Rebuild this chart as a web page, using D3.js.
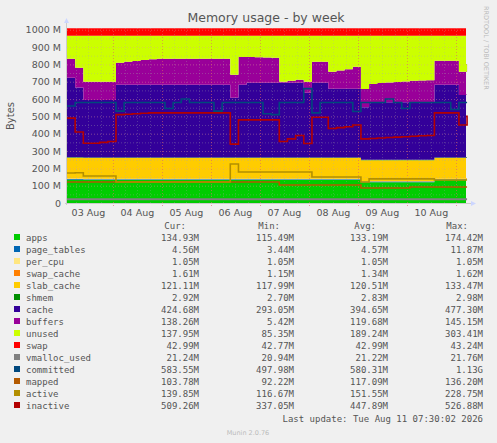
<!DOCTYPE html>
<html><head><meta charset="utf-8">
<script src="https://cdn.jsdelivr.net/npm/d3@7"></script>
<style>body{margin:0;background:#F0F0F0}svg{display:block}</style>
</head><body><svg id="c" width="497" height="443"></svg>
<script>
// sample every 4 hours starting Aug 3 01:30
const startTime = new Date(2026,7,3,1,30);
const stepHours = 4;
const memTotal = 965;
const cacheTop = [722,665,595,595,595,595,682,682,682,682,682,682,682,682,682,682,682,682,682,682,607,682,694,694,694,694,694,694,694,636,694,694,659,659,659,659,566,595,595,595,595,595,595,595,595,682,682,682,624,624];
const buffersTop = [832,780,700,700,700,700,809,815,820,825,830,832,832,832,832,832,832,832,832,832,740,843,843,841,840,838,700,705,712,700,815,815,757,765,772,786,671,700,705,708,712,715,718,720,722,821,821,821,757,800];
const apps = [134,134,133,133,133,133,133,133,133,133,133,133,133,133,133,133,133,133,133,133,133,133,133,133,133,133,133,133,133,133,133,133,133,133,133,133,120,120,120,120,120,120,120,120,120,133,133,133,133,134];
const committed = [560,580,580,580,580,580,530,580,580,580,580,580,545,580,600,580,580,580,530,580,580,580,580,580,515,510,580,580,580,660,520,580,580,580,580,528,580,580,580,600,580,545,580,580,580,580,580,540,580,580];
const inactive = [490,410,345,345,350,355,510,512,515,518,520,520,520,520,520,520,520,520,520,520,340,480,480,480,480,480,355,370,390,343,495,495,430,435,440,450,370,372,375,378,380,382,385,388,390,520,520,520,450,500];
const active = [173,175,156,156,156,156,121,121,121,121,121,121,121,121,121,121,121,121,121,121,225,179,179,179,179,179,179,179,179,179,150,150,150,150,150,150,121,139,139,139,139,139,139,139,139,133,133,133,133,133];
const mapped = [121,121,121,121,121,121,121,121,121,121,121,121,121,121,121,121,121,121,121,121,121,121,121,121,121,121,104,104,104,104,104,104,104,104,104,104,87,87,87,87,87,87,92,92,92,92,92,92,92,92];
const pageTables = 4.5, perCpu = 1.05, swapCache = 1.5, slabCache = 120, shmem = 2.9, swapUsed = 43, vmallocUsed = 21;
const yTicks = [0,100,200,300,400,500,600,700,800,900,1000];
const dayLabels = ["03 Aug","04 Aug","05 Aug","06 Aug","07 Aug","08 Aug","09 Aug","10 Aug"];
const legendRows = [
 ["apps","#00CC00","134.93M","115.49M","133.19M","174.42M"],
 ["page_tables","#0066B3","4.56M","3.44M","4.57M","11.87M"],
 ["per_cpu","#FFE680","1.05M","1.05M","1.05M","1.05M"],
 ["swap_cache","#FF8000","1.61M","1.15M","1.34M","1.62M"],
 ["slab_cache","#FFCC00","121.11M","117.99M","120.51M","133.47M"],
 ["shmem","#008F00","2.92M","2.70M","2.83M","2.98M"],
 ["cache","#330099","424.68M","293.05M","394.65M","477.30M"],
 ["buffers","#990099","138.26M","5.42M","119.68M","145.15M"],
 ["unused","#CCFF00","137.95M","85.35M","189.24M","303.41M"],
 ["swap","#FF0000","42.99M","42.77M","42.99M","43.24M"],
 ["vmalloc_used","#808080","21.24M","20.94M","21.22M","21.76M"],
 ["committed","#00487D","583.55M","497.98M","580.31M","1.13G"],
 ["mapped","#B35A00","103.78M","92.22M","117.09M","136.20M"],
 ["active","#B38F00","139.85M","116.67M","151.55M","228.75M"],
 ["inactive","#B30000","509.26M","337.05M","447.89M","526.88M"]];
const col = Object.fromEntries(legendRows.map(r=>[r[0],r[1]]));

const svg = d3.select("#c");
const L=67,R=466,T=28,B=203;
const n = cacheTop.length;
const times = d3.range(n).map(i=>new Date(+startTime + i*stepHours*3600e3));
const endTime = new Date(+startTime + 8.145*24*3600e3);
const x = d3.scaleTime().domain([startTime,endTime]).range([L,R]);
const y = d3.scaleLinear().domain([0,1010]).range([B,T]);

const rows = d3.range(n).map(i=>{
  const base = apps[i]+pageTables+perCpu+swapCache+slabCache+shmem;
  const cache = cacheTop[i]-263;
  const buffers = buffersTop[i]-cacheTop[i];
  const unused = memTotal-(base+cache+buffers) ;
  return {t:times[i],apps:apps[i],page_tables:pageTables,per_cpu:perCpu,swap_cache:swapCache,slab_cache:slabCache,shmem:shmem,cache:cache,buffers:buffers,unused:unused,swap:swapUsed};
});
const keys=["apps","page_tables","per_cpu","swap_cache","slab_cache","shmem","cache","buffers","unused","swap"];
const stack = d3.stack().keys(keys)(rows);
svg.append("rect").attr("x",L).attr("y",T).attr("width",R-L).attr("height",B-T).attr("fill","#fff");
const area = d3.area().curve(d3.curveStepAfter).x(d=>x(d.data.t)).y0(d=>y(d[0])).y1(d=>y(d[1]));
stack.forEach(s=>{const last=s[s.length-1];const e=[last[0],last[1]];e.data={t:endTime};s.push(e);});
svg.append("g").selectAll("path").data(stack).join("path").attr("d",area).attr("fill",d=>col[d.key]);

// grid
const g=svg.append("g");
yTicks.forEach(v=>{g.append("line").attr("x1",L).attr("x2",R).attr("y1",y(v)+.5).attr("y2",y(v)+.5).attr("stroke","#dd9999").attr("stroke-opacity",.45).attr("stroke-dasharray","1,2");});
for(let v=50;v<1000;v+=100) g.append("line").attr("x1",L).attr("x2",R).attr("y1",y(v)+.5).attr("y2",y(v)+.5).attr("stroke","#aaa").attr("stroke-opacity",.35).attr("stroke-dasharray","1,2");
d3.timeHour.every(6).range(startTime,endTime).forEach(t=>{
  const isM = t.getHours()===0;
  g.append("line").attr("x1",Math.round(x(t))+.5).attr("x2",Math.round(x(t))+.5).attr("y1",T).attr("y2",B+ (isM?3:0)).attr("stroke",isM?"#dd6666":"#aaa").attr("stroke-opacity",isM?.6:.3).attr("stroke-dasharray","1,2");
});

// lines
const lineData=[["vmalloc_used",d3.range(n).map(()=>vmallocUsed)],["committed",committed],["mapped",mapped],["active",active],["inactive",inactive]];
const line=d3.line().curve(d3.curveStepAfter).x(d=>x(d[0])).y(d=>y(d[1]));
lineData.forEach(([k,vals])=>{
  const pts = vals.map((v,i)=>[times[i],v]); pts.push([endTime,vals[n-1]]);
  svg.append("path").attr("d",line(pts)).attr("fill","none").attr("stroke",col[k]).attr("stroke-width",k==="vmalloc_used"?2:1.6);
});

// axes
const tc="#555", font="DejaVu Sans";
svg.append("line").attr("x1",L-0.5).attr("x2",L-0.5).attr("y1",B+2).attr("y2",T-6).attr("stroke","#ccc");
svg.append("line").attr("x1",L-2).attr("x2",R+6).attr("y1",B+0.5).attr("y2",B+0.5).attr("stroke","#ccc");
svg.append("path").attr("d",`M${L-3},${T-5}L${L+2},${T-5}L${L-0.5},${T-10}Z`).attr("fill","#ccd6ff");
svg.append("path").attr("d",`M${R+5},${B-2}L${R+5},${B+3}L${R+10},${B+0.5}Z`).attr("fill","#ccd6ff");
yTicks.forEach(v=>{
  svg.append("text").attr("x",L-6).attr("y",y(v)+3.5).attr("text-anchor","end").attr("font-family",font).attr("font-size",9.5).attr("fill",tc).text(v===0?"0":v+" M");
});
dayLabels.forEach((s,i)=>{
  const t=new Date(2026,7,3+i,12);
  svg.append("text").attr("x",x(t)).attr("y",B+13).attr("text-anchor","middle").attr("font-family",font).attr("font-size",9.5).attr("fill",tc).text(s);
});
svg.append("text").attr("x",266).attr("y",22).attr("text-anchor","middle").attr("font-family",font).attr("font-size",12.5).attr("fill","#555").text("Memory usage - by week");
svg.append("text").attr("transform","translate(14,116) rotate(-90)").attr("text-anchor","middle").attr("font-family",font).attr("font-size",10).attr("fill",tc).text("Bytes");
svg.append("text").attr("transform","translate(484,6) rotate(90)").attr("font-family",font).attr("font-size",6.5).attr("fill","#bbb").text("RRDTOOL / TOBI OETIKER");

// legend
const mono="DejaVu Sans Mono", ls=9;
const hy=229;
[["Cur:",186],["Min:",280],["Avg:",376],["Max:",468]].forEach(([s,xx])=>svg.append("text").attr("x",xx).attr("y",hy).attr("text-anchor","end").attr("font-family",mono).attr("font-size",ls).attr("fill",tc).text(s));
legendRows.forEach((r,i)=>{
  const yy=241+i*12;
  svg.append("rect").attr("x",14).attr("y",yy-7).attr("width",6).attr("height",6).attr("fill",r[1]);
  svg.append("text").attr("x",26).attr("y",yy).attr("font-family",mono).attr("font-size",ls).attr("fill",tc).text(r[0]);
  [199,294,388,483].forEach((xx,j)=>svg.append("text").attr("x",xx).attr("y",yy).attr("text-anchor","end").attr("font-family",mono).attr("font-size",ls).attr("fill",tc).text(r[2+j]));
});
svg.append("text").attr("x",483).attr("y",422).attr("text-anchor","end").attr("font-family",mono).attr("font-size",ls).attr("fill",tc).text("Last update: Tue Aug 11 07:30:02 2026");
svg.append("text").attr("x",248).attr("y",435).attr("text-anchor","middle").attr("font-family",font).attr("font-size",6.5).attr("fill","#bbb").text("Munin 2.0.76");
</script></body></html>
